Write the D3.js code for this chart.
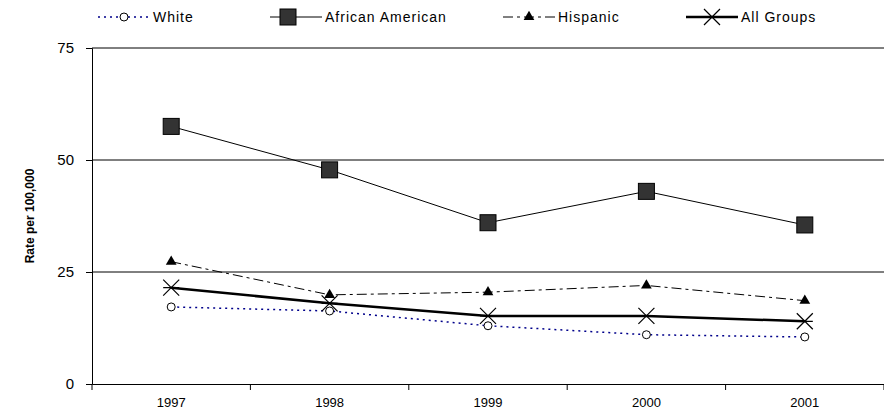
<!DOCTYPE html>
<html><head><meta charset="utf-8">
<script src="https://cdn.jsdelivr.net/npm/d3@7"></script>
<style>body{margin:0;background:#fff}text{font-family:"Liberation Sans",Arial,sans-serif}</style>
</head><body>
<svg id="c" width="884" height="417"></svg>
<script>
var years = ['1997', '1998', '1999', '2000', '2001'];
var white = [17.2, 16.3, 13.0, 11.0, 10.5];
var africanAmerican = [57.5, 47.8, 36.0, 43.0, 35.5];
var hispanic = [27.3, 19.9, 20.5, 22.0, 18.6];
var allGroups = [21.5, 18.0, 15.2, 15.2, 14.0];
var yTicks = [0, 25, 50, 75];

var svg = d3.select('#c');
var mLeft = 92, mRight = 884, mTop = 48, mBottom = 384;
var x = d3.scaleBand().domain(years).range([mLeft, mRight]);
var y = d3.scaleLinear().domain([0, 75]).range([mBottom, mTop]);

// gridlines
svg.selectAll('.grid').data(yTicks.filter(function(d){return d > 0;})).enter()
  .append('line').attr('x1', mLeft).attr('x2', mRight)
  .attr('y1', function(d){return y(d);}).attr('y2', function(d){return y(d);})
  .attr('stroke', '#000').attr('stroke-width', 1);

var xAxis = svg.append('g').attr('transform', 'translate(0,' + mBottom + ')')
  .call(d3.axisBottom(x).tickSize(0).tickPadding(14));
xAxis.select('.domain').attr('stroke', '#000');
xAxis.selectAll('text').attr('font-size', 13).attr('fill', '#000');
xAxis.selectAll('.bnd').data(d3.range(years.length + 1)).enter().append('line')
  .attr('x1', function(i){return mLeft + i * x.bandwidth();})
  .attr('x2', function(i){return mLeft + i * x.bandwidth();})
  .attr('y1', 0).attr('y2', 6).attr('stroke', '#000');

var yAxis = svg.append('g').attr('transform', 'translate(' + mLeft + ',0)')
  .call(d3.axisLeft(y).tickValues(yTicks).tickSize(6).tickPadding(12));
yAxis.select('.domain').attr('stroke', '#000');
yAxis.selectAll('text').attr('font-size', 15).attr('fill', '#000');

svg.append('text').attr('transform', 'translate(34,' + ((mTop + mBottom) / 2) + ') rotate(-90)')
  .attr('text-anchor', 'middle').attr('font-size', 12).attr('font-weight', 'bold').text('Rate per 100,000');

var cx = function(i){return x(years[i]) + x.bandwidth() / 2;};
var line = d3.line().x(function(d, i){return cx(i);}).y(function(d){return y(d);});

var series = [
  {name: 'White', data: white, color: '#00008b', width: 1.5, dash: '2,4', marker: 'circle'},
  {name: 'African American', data: africanAmerican, color: '#000', width: 1, dash: null, marker: 'square'},
  {name: 'Hispanic', data: hispanic, color: '#000', width: 1, dash: '10,4,3,4', marker: 'triangle'},
  {name: 'All Groups', data: allGroups, color: '#000', width: 2.5, dash: null, marker: 'star'}
];

function marker(g, type, px, py) {
  if (type === 'circle') g.append('circle').attr('cx', px).attr('cy', py).attr('r', 4).attr('fill', '#fff').attr('stroke', '#000');
  if (type === 'square') g.append('rect').attr('x', px - 8).attr('y', py - 8).attr('width', 16).attr('height', 16).attr('fill', '#333').attr('stroke', '#000');
  if (type === 'triangle') g.append('path').attr('d', d3.symbol(d3.symbolTriangle, 50)()).attr('transform', 'translate(' + px + ',' + py + ')').attr('fill', '#000');
  if (type === 'star') {
    var s = 8;
    g.append('path').attr('d', 'M' + (px - s) + ',' + (py - s) + 'L' + (px + s) + ',' + (py + s) + 'M' + (px - s) + ',' + (py + s) + 'L' + (px + s) + ',' + (py - s) + 'M' + (px - s) + ',' + py + 'L' + (px + s) + ',' + py)
      .attr('stroke', '#000').attr('stroke-width', 1.2);
  }
}

series.forEach(function(s){
  svg.append('path').datum(s.data).attr('d', line).attr('fill', 'none')
    .attr('stroke', s.color).attr('stroke-width', s.width).attr('stroke-dasharray', s.dash);
  var g = svg.append('g');
  s.data.forEach(function(v, i){ marker(g, s.marker, cx(i), y(v)); });
});

// legend
var legX = [98, 270, 503, 686];
series.forEach(function(s, i){
  var lx = legX[i], ly = 17, len = i === 1 ? 52 : 52;
  svg.append('line').attr('x1', lx).attr('x2', lx + len).attr('y1', ly).attr('y2', ly)
    .attr('stroke', s.color).attr('stroke-width', s.width).attr('stroke-dasharray', s.dash);
  marker(svg.append('g'), s.marker, lx + (i === 1 ? 18 : len / 2), ly);
  svg.append('text').attr('x', lx + len + 3).attr('y', ly + 5).attr('font-size', 14).attr('letter-spacing', 1).text(s.name);
});
</script>
</body></html>
